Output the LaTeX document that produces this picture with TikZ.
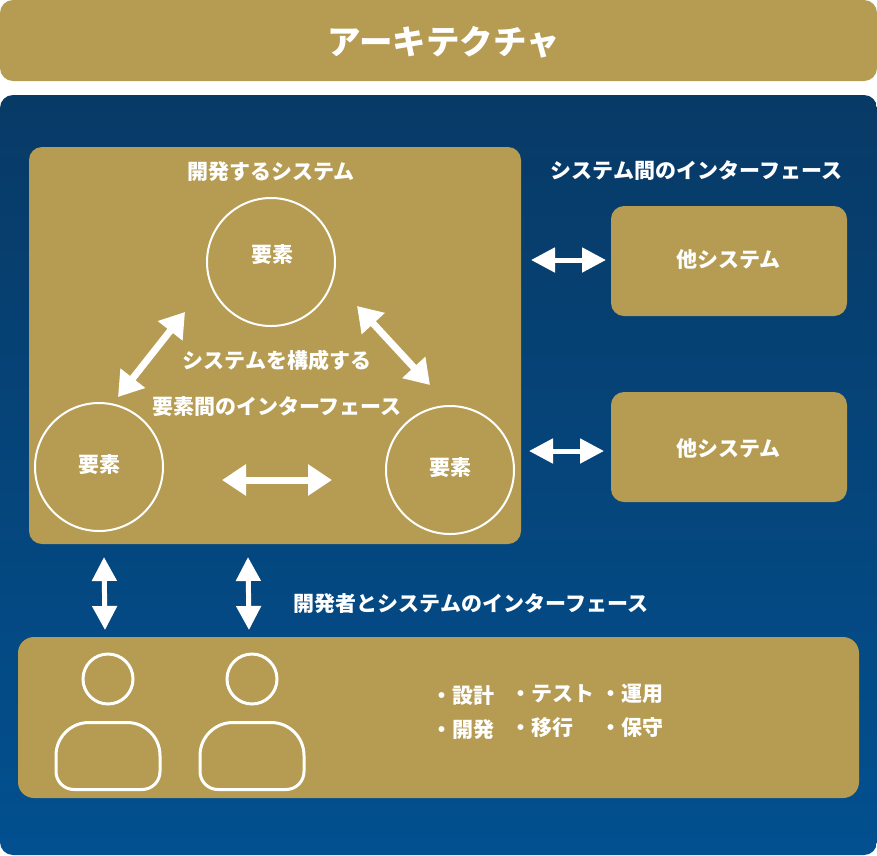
\documentclass[tikz,border=0pt]{standalone}
\usepackage{fontspec}
\setmainfont{Noto Sans CJK JP}
\usetikzlibrary{arrows.meta}
\definecolor{gold}{HTML}{B59C52}
\definecolor{navytop}{HTML}{083A66}
\definecolor{navybot}{HTML}{025090}
\newcommand{\fsz}[1]{\fontsize{#1}{#1}\selectfont\bfseries}
\begin{document}
\begin{tikzpicture}[
    x = 1pt, y = -1pt,
    goldbox/.style = {fill = gold, inner sep = 0, rounded corners = 13pt},
    lbl/.style = {text = white, inner sep = 0, font = \fsz{21}},
    elem/.style = {draw = white, line width = 2pt, circle, inner sep = 0, minimum size = 128pt},
    head/.style = {draw = white, line width = 3pt, circle, inner sep = 0, minimum size = 50pt},
    bodyline/.style = {draw = white, line width = 3pt},
    twoway/.style = {draw = white, fill = white, line width = 5pt,
      {Triangle[length = 24pt, width = 24pt]}-{Triangle[length = 24pt, width = 24pt]}},
    twowaybig/.style = {draw = white, fill = white, line width = 7pt,
      {Triangle[length = 24pt, width = 30pt]}-{Triangle[length = 24pt, width = 30pt]}}
  ]
  \useasboundingbox (0,0) rectangle (877,855);

  % title and background
  \node[goldbox, minimum width = 877pt, minimum height = 81pt] (title) at (438.5,40.5) {};
  \node[lbl, font = \fsz{33.5}] (titletxt) at (444,42) {アーキテクチャ};
  \node[inner sep = 0, rounded corners = 13pt, top color = navytop, bottom color = navybot,
    minimum width = 877pt, minimum height = 760pt] (back) at (438.5,475) {};

  % system with its elements
  \node[goldbox, minimum width = 492pt, minimum height = 397pt] (sys) at (275,345.5) {};
  \node[lbl] (systxt) at (271,172) {開発するシステム};
  \node[elem] (elemtop) at (271,262) {};
  \node[elem] (elemleft) at (99,467) {};
  \node[elem] (elemright) at (450,470) {};
  \node[lbl] (elemtxta) at (272,255) {要素};
  \node[lbl] (elemtxtb) at (99,465) {要素};
  \node[lbl] (elemtxtc) at (450,468) {要素};
  \node[lbl] (ifa) at (277,360.5) {システムを構成する};
  \node[lbl] (ifb) at (277,406.5) {要素間のインターフェース};

  % other systems
  \node[goldbox, minimum width = 236pt, minimum height = 110pt] (othera) at (729,261) {};
  \node[goldbox, minimum width = 236pt, minimum height = 110pt] (otherb) at (729,447) {};
  \node[lbl] (otheratxt) at (728.5,259.5) {他システム};
  \node[lbl] (otherbtxt) at (728.5,449) {他システム};
  \node[lbl] (iftxtc) at (696.5,171) {システム間のインターフェース};

  % developers
  \node[goldbox, rounded corners = 16pt, minimum width = 841pt, minimum height = 161pt] (dev) at (438.5,717.5) {};
  \node[lbl] (iftxtd) at (471,604) {開発者とシステムのインターフェース};
  \node[head] (heada) at (108,679) {};
  \node[head] (headb) at (252,679) {};
  \foreach \x in {56, 200} {
    \draw[bodyline] (\x+33,722.5) -- (\x+71,722.5)
      .. controls (\x+89,722.5) and (\x+104,737) .. (\x+104,755.5)
      -- (\x+104,771.5)
      .. controls (\x+104,781.5) and (\x+96,789.5) .. (\x+86,789.5)
      -- (\x+18,789.5)
      .. controls (\x+8,789.5) and (\x,781.5) .. (\x,771.5)
      -- (\x,755.5)
      .. controls (\x,737) and (\x+15,722.5) .. (\x+33,722.5) -- cycle;
  }
  \node[lbl, anchor = west] (taska) at (431,696) {・設計};
  \node[lbl, anchor = west] (taskb) at (431,730) {・開発};
  \node[lbl, anchor = west] (taskc) at (510,694) {・テスト};
  \node[lbl, anchor = west] (taskd) at (510,728) {・移行};
  \node[lbl, anchor = west] (taske) at (600,694) {・運用};
  \node[lbl, anchor = west] (taskf) at (600,728) {・保守};

  % arrow ends
  \coordinate (aa) at (185,312);
  \coordinate (ab) at (118,397);
  \coordinate (ba) at (357,306);
  \coordinate (bb) at (430,385);
  \coordinate (ca) at (222,480);
  \coordinate (cb) at (332,480);
  \coordinate (da) at (531,260);
  \coordinate (db) at (606,260);
  \coordinate (ea) at (529,451);
  \coordinate (eb) at (604,451);
  \coordinate (fa) at (104,557);
  \coordinate (fb) at (105,630);
  \coordinate (ga) at (248,557);
  \coordinate (gb) at (249,630);
  \foreach \a/\b in {aa/ab, ba/bb, ca/cb}
    \draw[twowaybig] (\a) -- (\b);
  \foreach \a/\b in {da/db, ea/eb, fa/fb, ga/gb}
    \draw[twoway] (\a) -- (\b);
\end{tikzpicture}
\end{document}
